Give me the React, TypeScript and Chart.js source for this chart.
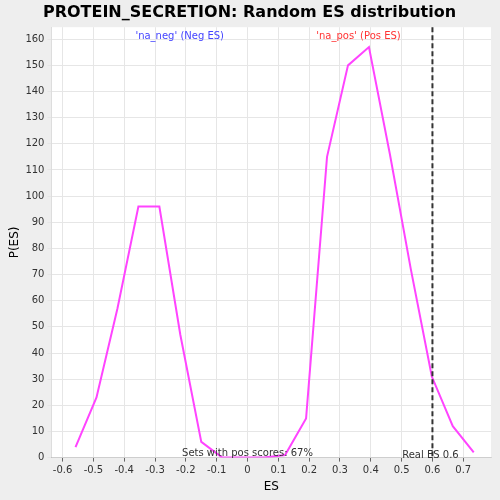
import React, { useEffect, useRef } from "react";
import { Chart, registerables } from "chart.js";
Chart.register(...registerables);

const esValues = [-0.558, -0.49, -0.422, -0.354, -0.286, -0.218, -0.15, -0.082, -0.014, 0.054, 0.122, 0.19, 0.258, 0.326, 0.394, 0.462, 0.53, 0.598, 0.666, 0.734];
const probValues = [4, 23, 57, 96, 96, 47, 6, 0, 0, 0, 1, 15, 115, 150, 157, 116, 72, 31, 12, 2];
const realES = 0.6;

const annot = {
  id: "annot",
  afterDraw(c: any) {
    const { ctx, scales: { x, y }, chartArea } = c;
    ctx.save();
    ctx.strokeStyle = "#333";
    ctx.lineWidth = 2;
    ctx.setLineDash([5, 3]);
    const xp = x.getPixelForValue(realES);
    ctx.beginPath(); ctx.moveTo(xp, chartArea.top); ctx.lineTo(xp, chartArea.bottom); ctx.stroke();
    ctx.setLineDash([]);
    ctx.font = "10px 'DejaVu Sans'";
    ctx.textAlign = "center";
    ctx.fillStyle = "#4444ff";
    ctx.fillText("'na_neg' (Neg ES)", x.getPixelForValue(-0.22), chartArea.top + 12);
    ctx.fillStyle = "#ff3333";
    ctx.fillText("'na_pos' (Pos ES)", x.getPixelForValue(0.36), chartArea.top + 12);
    ctx.fillStyle = "#333";
    ctx.fillText("Sets with pos scores: 67%", x.getPixelForValue(0.0), chartArea.bottom - 2);
    ctx.fillText("Real ES 0.6", x.getPixelForValue(realES) - 2, chartArea.bottom);
    ctx.restore();
  },
};

const bg = {
  id: "bg",
  beforeDraw(c: any) {
    const { ctx, chartArea } = c;
    ctx.save();
    ctx.fillStyle = "#eeeeee";
    ctx.fillRect(0, 0, c.width, c.height);
    ctx.fillStyle = "#ffffff";
    ctx.fillRect(chartArea.left, chartArea.top, chartArea.width, chartArea.height);
    ctx.restore();
  },
};

export default function App() {
  const ref = useRef<HTMLCanvasElement>(null);
  useEffect(() => {
    const chart = new Chart(ref.current!, {
      type: "line",
      data: {
        datasets: [{
          data: esValues.map((v, i) => ({ x: v, y: probValues[i] })),
          borderColor: "#ff44ff",
          borderWidth: 2,
          pointRadius: 0,
          tension: 0,
        }],
      },
      options: {
        animation: false,
        responsive: false,
        layout: { padding: { left: 8, right: 9, bottom: 6 } },
        plugins: {
          legend: { display: false },
          tooltip: { enabled: false },
          title: {
            display: true,
            text: "PROTEIN_SECRETION: Random ES distribution",
            font: { size: 16, weight: "bold", family: "'DejaVu Sans'" },
            color: "#000",
            padding: { top: 3, bottom: 5 },
          },
        },
        scales: {
          x: {
            type: "linear", min: -0.636, max: 0.79,
            afterBuildTicks: (s: any) => { s.ticks = [-0.6,-0.5,-0.4,-0.3,-0.2,-0.1,0,0.1,0.2,0.3,0.4,0.5,0.6,0.7].map(v => ({ value: v })); },
            ticks: { font: { size: 10, family: "'DejaVu Sans'" }, color: "#333", callback: (v: any) => (Math.round(v * 10) / 10).toString() },
            grid: { color: "#e6e6e6", tickColor: "#666", drawTicks: true, tickLength: 4 },
            title: { display: true, text: "ES", font: { size: 12, family: "'DejaVu Sans'" }, color: "#000", padding: 0 },
          },
          y: {
            min: 0, max: 164.6,
            afterBuildTicks: (s: any) => { s.ticks = Array.from({ length: 17 }, (_, i) => ({ value: i * 10 })); },
            ticks: { font: { size: 10, family: "'DejaVu Sans'" }, color: "#333" },
            grid: { color: "#e6e6e6", tickLength: 4 },
            title: { display: true, text: "P(ES)", font: { size: 12, family: "'DejaVu Sans'" }, color: "#000", padding: 0 },
          },
        },
      },
      plugins: [bg, annot],
    });
    return () => chart.destroy();
  }, []);
  return <canvas ref={ref} width={500} height={500} style={{ position: "absolute", left: 0, top: 0 }} />;
}
